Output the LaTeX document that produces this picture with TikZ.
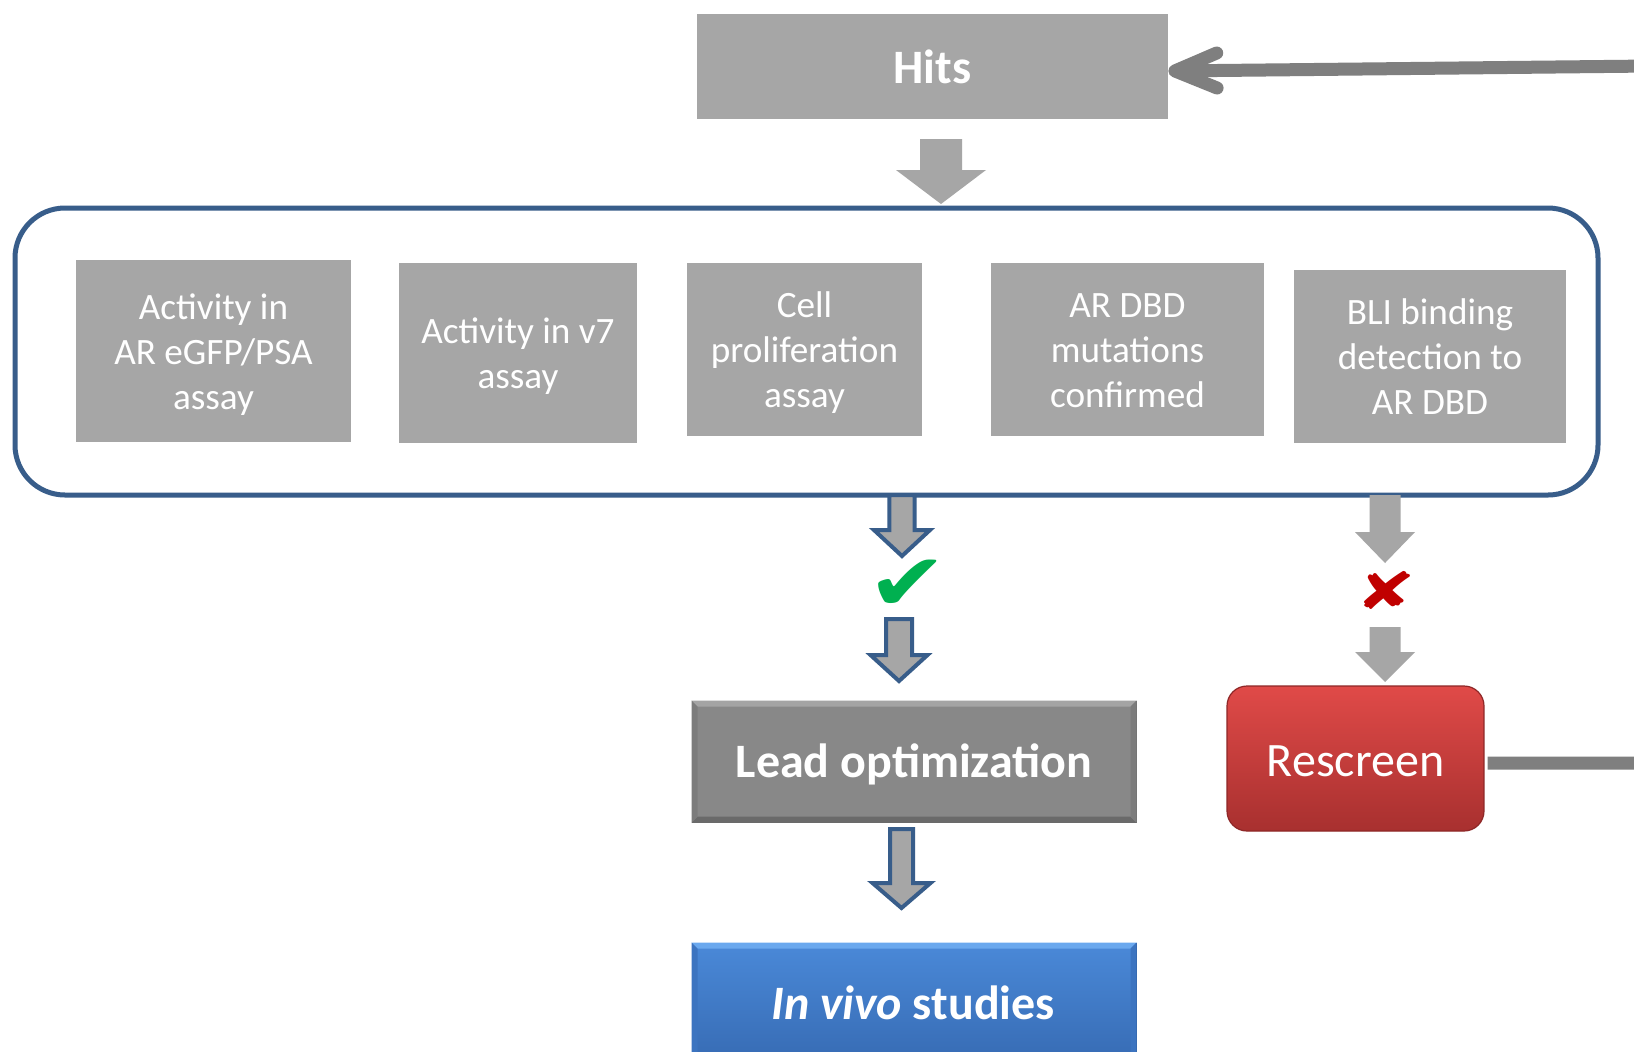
\documentclass[tikz,border=0pt]{standalone}
\usepackage{fontspec}
\setmainfont{Carlito}
\newfontfamily\dejavu{DejaVu Sans}
\usetikzlibrary{arrows.meta,calc}
\definecolor{boxgray}{HTML}{A6A6A6}
\definecolor{frameblue}{HTML}{385D8A}
\definecolor{conngray}{HTML}{7F7F7F}
\definecolor{leadgray}{HTML}{888888}
\definecolor{leadlight}{HTML}{A4A4A4}
\definecolor{leaddark}{HTML}{6A6A6A}
\definecolor{leadside}{HTML}{7C7C7C}
\definecolor{blueA}{HTML}{4A89D8}
\definecolor{blueB}{HTML}{3568B0}
\definecolor{bluelight}{HTML}{6AA8EE}
\definecolor{bluedark}{HTML}{2C5896}
\definecolor{blueside}{HTML}{3C74C0}
\definecolor{redA}{HTML}{E04A48}
\definecolor{redB}{HTML}{A8302F}
\definecolor{redborder}{HTML}{8E2727}
\definecolor{chkgreen}{HTML}{00B050}
\definecolor{crossred}{HTML}{C00000}
\newcommand{\lnA}{\rule{0pt}{17.5pt}}
\newcommand{\lnZ}{\rule[-4.5pt]{0pt}{4.5pt}}
\tikzset{
  assay/.style={fill=boxgray, text=white, align=center, inner sep=0pt,
    font=\fontsize{18.6}{22.5}\selectfont},
  hitsbox/.style={fill=boxgray, text=white, inner sep=0pt, text height=17.5pt, text depth=0.5pt,
    font=\fontsize{24}{28}\selectfont\bfseries},
  frame/.style={draw=frameblue, line width=2.5pt, rounded corners=25pt, inner sep=0pt},
  leadbox/.style={fill=leadgray, draw=leaddark, line width=0.5pt, inner sep=0pt},
  leadtext/.style={text=white, inner sep=0pt, text height=17pt, text depth=1pt,
    font=\fontsize{24}{28}\selectfont\bfseries},
  vivobox/.style={top color=blueA, bottom color=blueB, draw=bluedark, line width=0.5pt, inner sep=0pt},
  vivotext/.style={text=white, inner sep=0pt, font=\fontsize{24}{28}\selectfont\bfseries},
  rescbox/.style={top color=redA, bottom color=redB, draw=redborder, line width=0.6pt,
    rounded corners=10pt, text=white, inner sep=0pt, text height=18.5pt, text depth=0.5pt,
    font=\fontsize{24}{28}\selectfont},
  garrow/.style={fill=boxgray, draw=none},
  barrow/.style={fill=boxgray, draw=frameblue, line width=2pt, line join=miter},
  conn/.style={draw=conngray, line width=6.5pt, line join=round,
    -{Straight Barb[length=21pt,width=17.5pt,line cap=round,line join=round]}},
  glyph/.style={inner sep=0pt}
}
\newcommand{\blockdown}[6]{%
  \draw[#1, shift={(#2)}] (-#3,0) -- (#3,0) -- (#3,#5) -- (#4,#5) -- (0,#6) -- (-#4,#5) -- (-#3,#5) -- cycle;}
\newcommand{\bevel}[5]{%
  \fill[#3] (#1.north west) -- (#1.north east) -- ([shift={(-#2,#2)}]#1.north east) -- ([shift={(#2,#2)}]#1.north west) -- cycle;
  \fill[#4] (#1.south west) -- (#1.south east) -- ([shift={(-#2,-#2)}]#1.south east) -- ([shift={(#2,-#2)}]#1.south west) -- cycle;
  \fill[#5] (#1.north west) -- ([shift={(#2,#2)}]#1.north west) -- ([shift={(#2,-#2)}]#1.south west) -- (#1.south west) -- cycle;
  \fill[#5] (#1.north east) -- ([shift={(-#2,#2)}]#1.north east) -- ([shift={(-#2,-#2)}]#1.south east) -- (#1.south east) -- cycle;}
\begin{document}
\begin{tikzpicture}[x=0.5pt,y=-0.5pt]
\useasboundingbox (0,0) rectangle (1634,1051);
\clip (0,0) rectangle (1634,1051);
\fill[white] (0,0) rectangle (1634,1051);

% Hits
\node[hitsbox, minimum width=235.5pt, minimum height=52.5pt] (hits) at (932.5,66.5) {Hits};

% container frame and assay boxes
\node[frame, minimum width=791.5pt, minimum height=143.5pt] (cont) at (806.5,351.5) {};
\node[assay, minimum width=137.5pt, minimum height=91pt] (b1) at (213.5,351) {\lnA Activity in\\AR eGFP/PSA\\assay\lnZ};
\node[assay, minimum width=119pt, minimum height=90pt] (b2) at (518,353) {\lnA Activity in v7\\assay\lnZ};
\node[assay, minimum width=117.5pt, minimum height=86.5pt] (b3) at (804.5,349.5) {\lnA Cell\\proliferation\\assay\lnZ};
\node[assay, minimum width=136.5pt, minimum height=86.5pt] (b4) at (1127.5,349.5) {\lnA AR DBD\\mutations\\confirmed\lnZ};
\node[assay, minimum width=136pt, minimum height=86.5pt] (b5) at (1430,356.5) {\lnA BLI binding\\detection to\\AR DBD\lnZ};

% Lead optimization
\node[leadbox, minimum width=222pt, minimum height=60.5pt] (lead) at (914,761.5) {};
\bevel{lead}{6}{leadlight}{leaddark}{leadside}
\node[leadtext] (leadtxt) at (lead.center) {Lead optimization};

% In vivo studies
\node[vivobox, minimum width=222pt, minimum height=66pt] (vivo) at (914,1009) {};
\bevel{vivo}{6}{bluelight}{bluedark}{blueside}
\node[vivotext] (vivotxt) at (913,1002.5) {\textit{In vivo} studies};

% Rescreen
\node[rescbox, minimum width=128.5pt, minimum height=72.5pt] (resc) at (1355.5,758.5) {Rescreen};

% block arrows
\coordinate (a0) at (941,139);
\coordinate (a1) at (902,495);
\coordinate (a2) at (899,619);
\coordinate (a3) at (901.5,829);
\coordinate (r1) at (1385,495);
\coordinate (r2) at (1385,627);
\blockdown{garrow}{a0}{21}{45}{31}{65}
\blockdown{barrow}{a1}{12.6}{28}{35}{61}
\blockdown{barrow}{a2}{13}{28.5}{36}{62}
\blockdown{barrow}{a3}{11.5}{29}{54}{79}
\blockdown{garrow}{r1}{15.5}{30}{37}{68}
\blockdown{garrow}{r2}{15.5}{30}{25}{55}

% check and cross
\node[glyph, text=chkgreen, font=\dejavu\fontsize{40}{40}\selectfont] (chk) at (908,585) {\scalebox{1.2}[1]{✔}};
\node[glyph, text=crossred, font=\dejavu\fontsize{28}{28}\selectfont] (crs) at (1386,590) {\scalebox{1.3}[0.92]{✘}};

% feedback connector Rescreen -> Hits
\coordinate (rescout) at ([shift={(0,4.5)}]resc.east);
\coordinate (offright) at (1700,763);
\coordinate (offtop) at (1700,65.5);
\coordinate (hitsin) at ([shift={(0,4.5)}]hits.east);
\draw[conn, shorten <=1.5pt] (rescout) -- (offright) -- (offtop) -- (hitsin);
\end{tikzpicture}
\end{document}
